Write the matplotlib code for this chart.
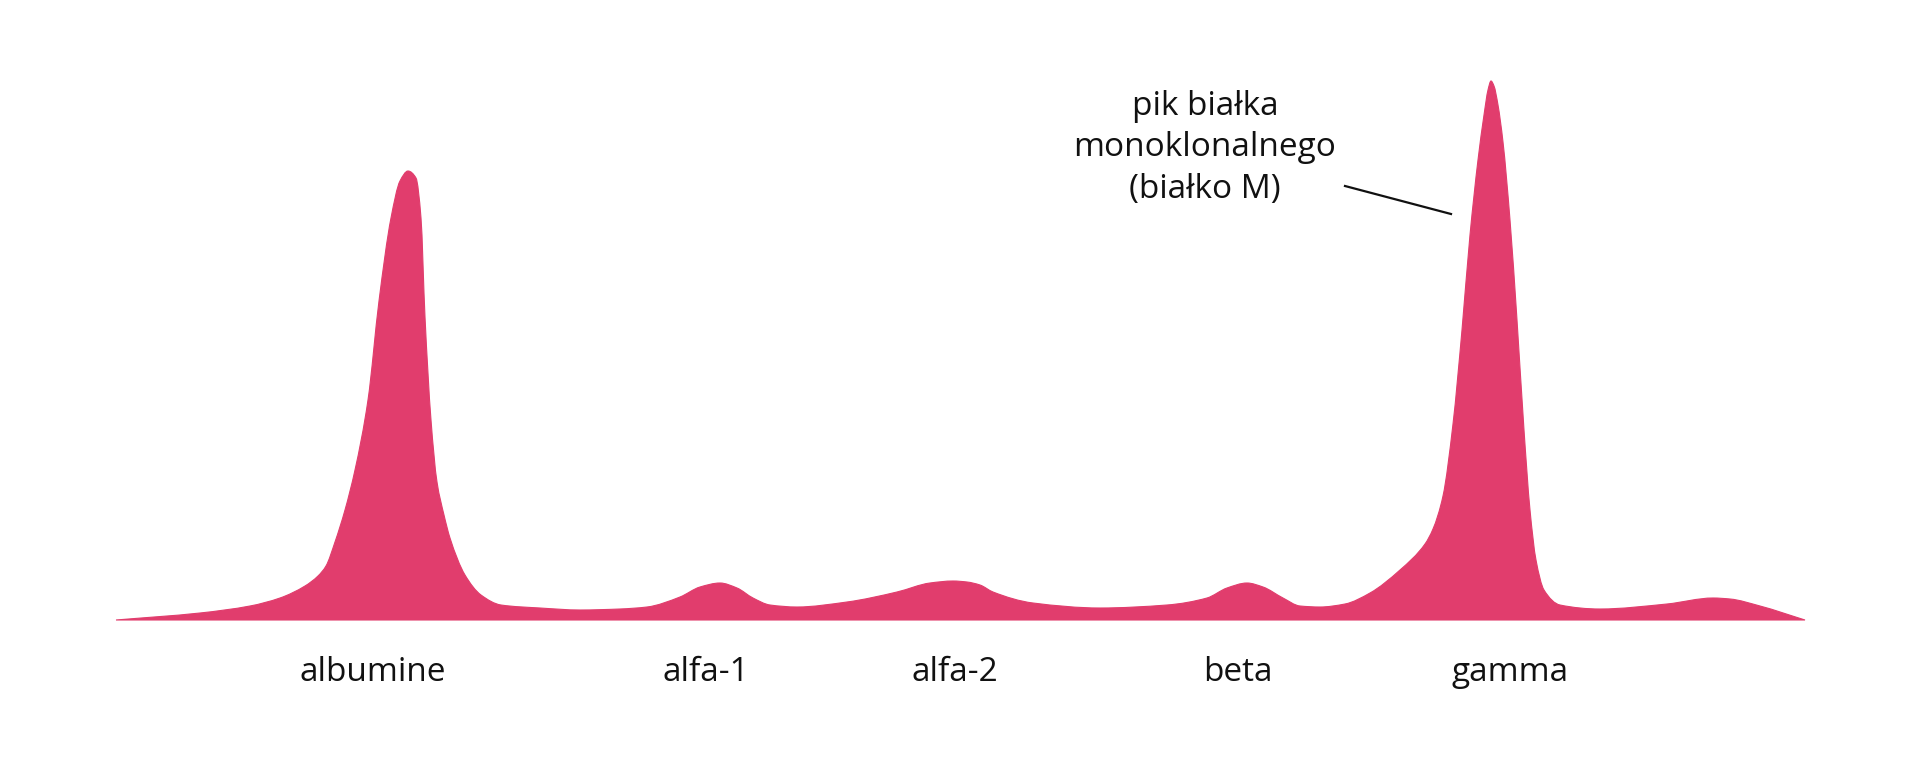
import numpy as np
import matplotlib
matplotlib.use('Agg')
import matplotlib.pyplot as plt
from matplotlib.path import Path
from matplotlib.patches import PathPatch

plt.rcParams['font.family'] = ['Open Sans', 'DejaVu Sans']

# electrophoresis trace: migration position vs. intensity
position = [116, 200, 250, 280, 305, 318, 326, 335, 345, 355, 368, 379, 391, 400, 408,
            416, 421, 425, 431, 437, 444, 450, 465, 481, 501, 540, 580, 620, 647,
            680, 700, 720, 737, 753, 770, 797, 847, 897, 930, 953, 967, 980, 993,
            1033, 1100, 1167, 1207, 1227, 1247, 1263, 1283, 1300, 1320, 1345, 1370, 1400,
            1425, 1433, 1443, 1453, 1462, 1470, 1478, 1484, 1488, 1491, 1494, 1498, 1503,
            1510, 1517, 1524, 1530, 1536, 1544, 1560, 1600, 1667, 1713, 1730, 1760, 1805]
intensity = [0, 7, 14, 22, 34, 44, 54, 78, 110, 150, 220, 319, 402, 439, 449,
             442, 402, 303, 200, 138, 105, 82, 45, 25, 15, 12, 10, 11, 13,
             23, 33, 37, 32, 22, 15, 13, 18, 28, 37, 39, 38, 35, 28,
             17, 12, 15, 22, 32, 37, 33, 22, 14, 13, 16, 27, 50,
             76, 91, 124, 196, 290, 385, 460, 505, 530, 539, 534, 515, 478,
             400, 300, 190, 110, 60, 30, 15, 11, 16, 22, 21, 14, 0]

fractions = ['albumine', 'alfa-1', 'alfa-2', 'beta', 'gamma']
fraction_pos = [373, 706, 955, 1238, 1510]

note_lines = ['pik białka', 'monoklonalnego', '(białko M)']

color = '#E13D6D'


def hermite_path(x, y):
    # monotone cubic tangents, drawn as bezier segments
    x = np.asarray(x, float)
    y = np.asarray(y, float)
    h = np.diff(x)
    d = np.diff(y) / h
    m = np.zeros_like(y)
    m[0], m[-1] = d[0], d[-1]
    for i in range(1, len(x) - 1):
        if d[i - 1] * d[i] <= 0:
            m[i] = 0
        else:
            w1 = 2 * h[i] + h[i - 1]
            w2 = h[i] + 2 * h[i - 1]
            m[i] = (w1 + w2) / (w1 / d[i - 1] + w2 / d[i])
    verts = [(x[0], 0), (x[0], y[0])]
    codes = [Path.MOVETO, Path.LINETO]
    for i in range(len(x) - 1):
        verts += [(x[i] + h[i] / 3, y[i] + m[i] * h[i] / 3),
                  (x[i + 1] - h[i] / 3, y[i + 1] - m[i + 1] * h[i] / 3),
                  (x[i + 1], y[i + 1])]
        codes += [Path.CURVE4] * 3
    verts += [(x[-1], 0), (x[0], 0)]
    codes += [Path.LINETO, Path.CLOSEPOLY]
    return Path(verts, codes)


fig = plt.figure(figsize=(19.2, 7.73), dpi=100)
ax = fig.add_axes([0, 0, 1, 1])
ax.set_xlim(0, 1920)
ax.set_ylim(-153, 620)
ax.axis('off')

ax.add_patch(PathPatch(hermite_path(position, intensity), facecolor=color,
                       edgecolor=color, lw=0.8))

for name, x in zip(fractions, fraction_pos):
    ax.text(x, -61, name, ha='center', va='baseline', fontsize=24, color='#111111')

for i, line in enumerate(note_lines):
    ax.text(1205, 505 - i * 41.5, line, ha='center', va='baseline', fontsize=24,
            color='#111111')
ax.plot([1345, 1451], [434, 406], color='#111111', lw=1.6)

fig.savefig('out.png', dpi=100, facecolor='white')
